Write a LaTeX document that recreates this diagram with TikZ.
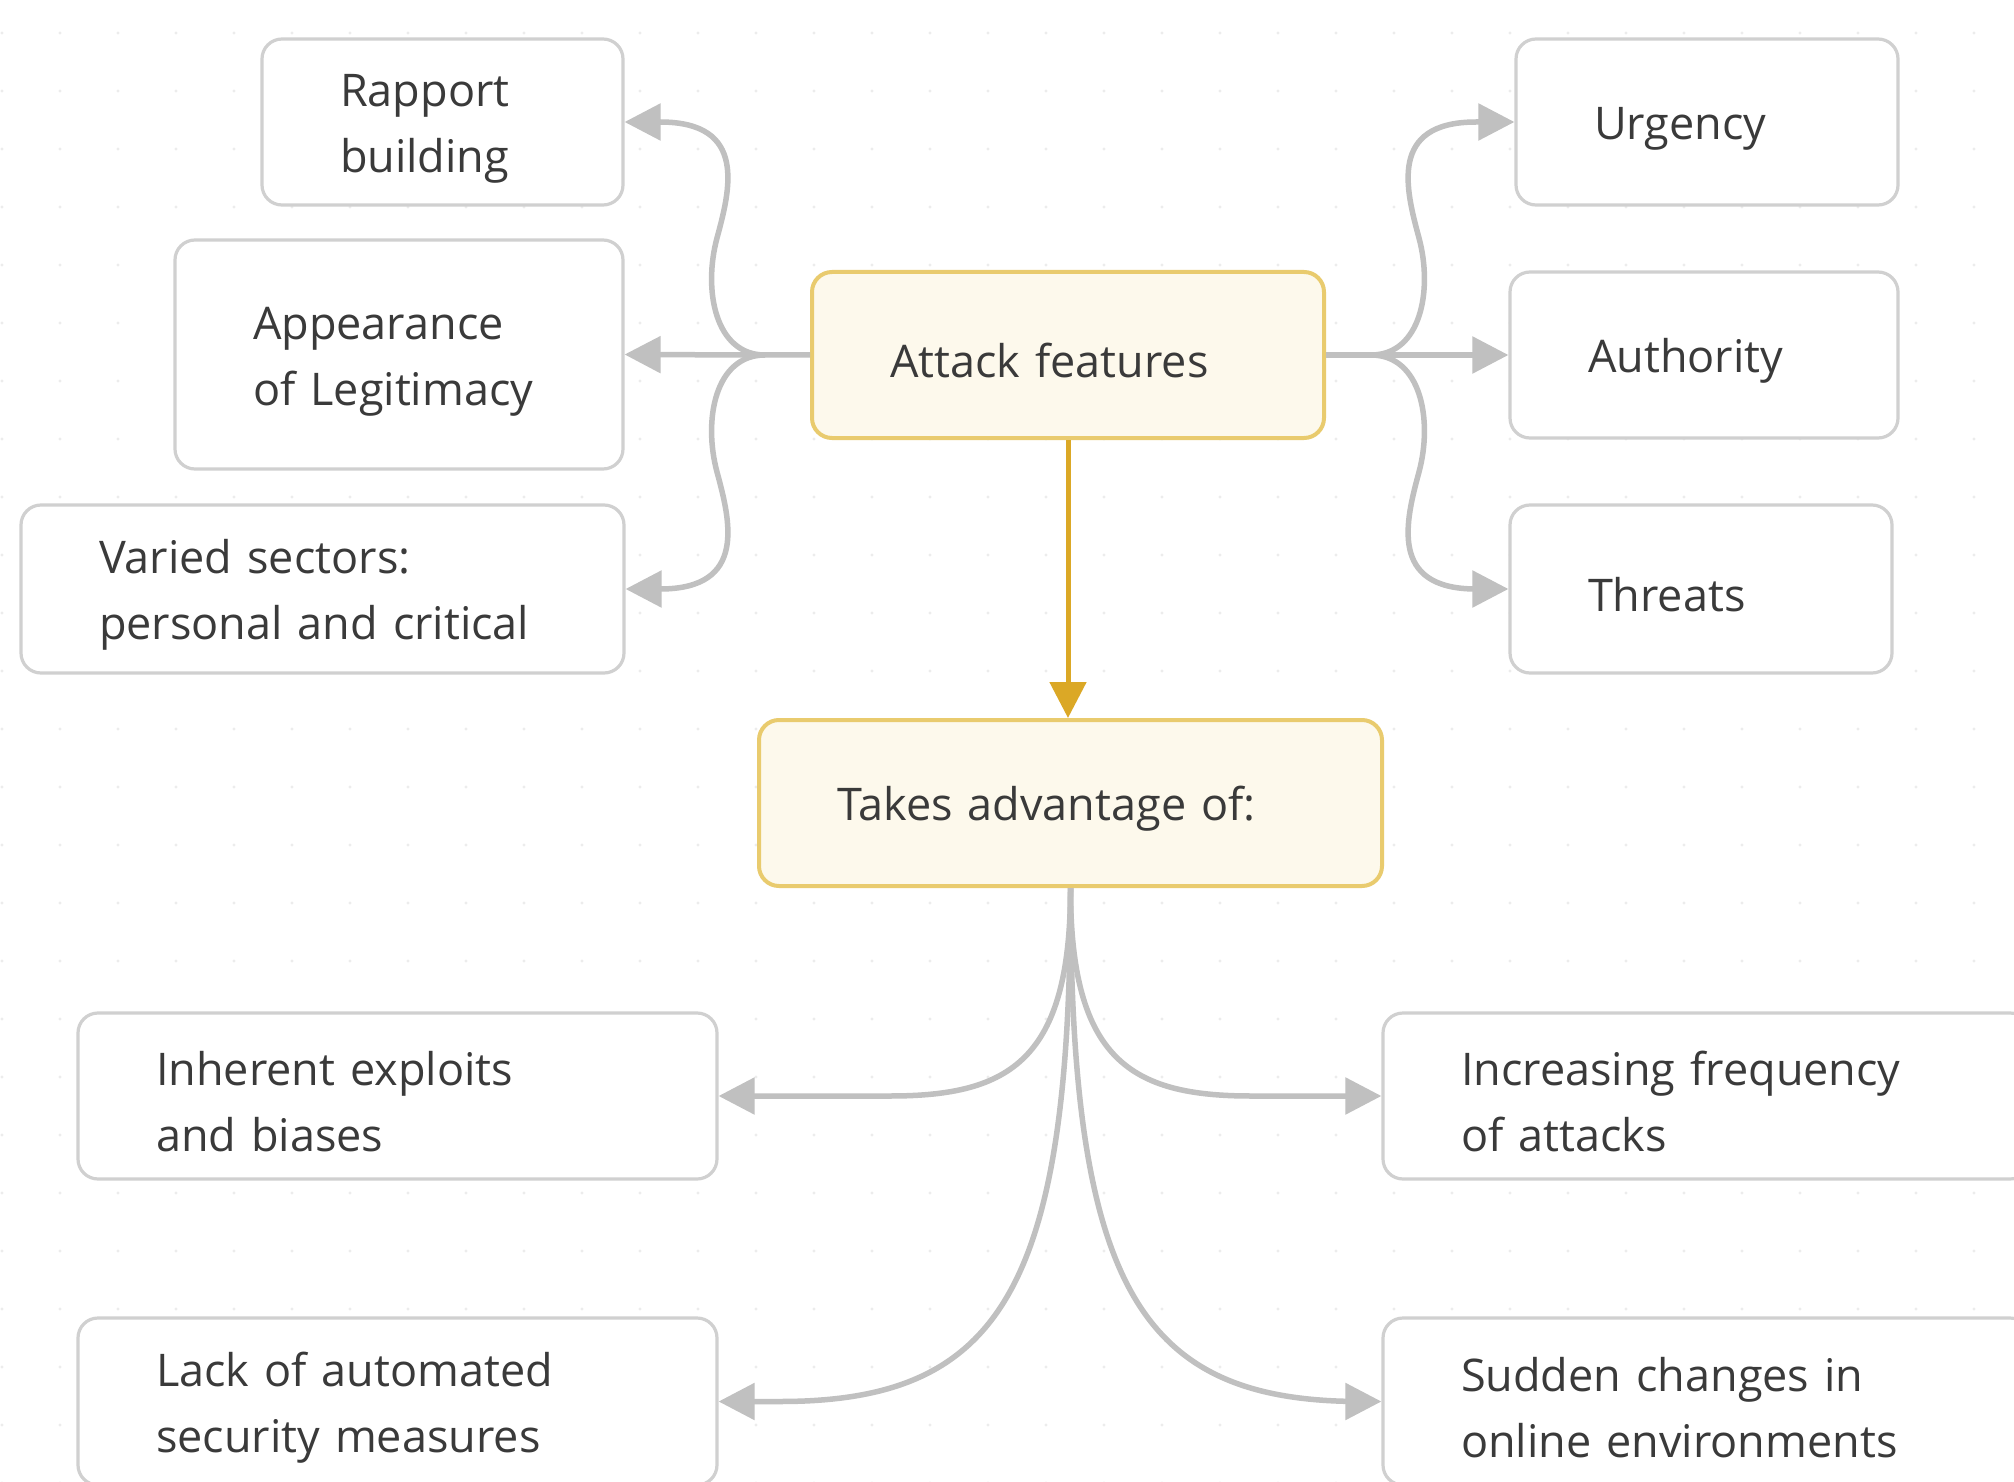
\documentclass[tikz,border=0pt]{standalone}
\usepackage{fontspec}
\setmainfont{Open Sans}
\usetikzlibrary{arrows.meta}
\definecolor{linegray}{RGB}{192,192,192}
\definecolor{boxgray}{RGB}{208,208,208}
\definecolor{goldb}{RGB}{233,203,110}
\definecolor{goldf}{RGB}{253,249,236}
\definecolor{goldarr}{RGB}{219,168,38}
\definecolor{txt}{RGB}{58,58,58}
\definecolor{dotc}{RGB}{236,236,236}
\tikzset{
  box/.style={draw=boxgray, line width=1.6pt, fill=white, rounded corners=10pt,
    inner xsep=39pt, inner ysep=0pt, align=left, text=txt,
    font=\fontsize{22.5}{33}\selectfont,
    execute at begin node={\rule{0pt}{23.2pt}}},
  gbox/.style={box, draw=goldb, fill=goldf, line width=2pt},
  conn/.style={draw=linegray, line width=2.75pt, -{Triangle[length=18pt,width=18pt]}},
  goldconn/.style={draw=goldarr, line width=2.5pt, -{Triangle[length=18pt,width=18pt]}},
}
\begin{document}
\begin{tikzpicture}[x=0.5pt,y=-0.5pt]
\clip (0,0) rectangle (2014,1482);
\fill[white] (0,0) rectangle (2014,1482);
\foreach \i in {0,...,34} {
  \foreach \j in {0,...,25} {
    \fill[dotc] (\i*58+2, 33+\j*58) circle (1.6);
  }
}
% left boxes
\node[box, minimum width=180.5pt, minimum height=83pt, text width=102.5pt] (rap) at (442.5,122) {Rapport\\building};
\node[box, minimum width=224pt, minimum height=114.5pt, text width=146pt] (app) at (399,354.5) {Appearance\\of Legitimacy};
\node[box, minimum width=301.5pt, minimum height=84pt, text width=223.5pt] (var) at (322.5,589) {Varied sectors:\\personal and critical};
% center
\node[gbox, minimum width=256pt, minimum height=83pt, text width=178pt] (att) at (1068,355) {Attack features};
\node[gbox, minimum width=311.5pt, minimum height=83pt, text width=233.5pt] (tak) at (1070.5,803) {Takes advantage of:};
% right boxes
\node[box, minimum width=191pt, minimum height=83pt, text width=113pt] (urg) at (1707,122) {Urgency};
\node[box, minimum width=194pt, minimum height=83pt, text width=116pt] (aut) at (1704,355) {Authority};
\node[box, minimum width=191pt, minimum height=84pt, text width=113pt] (thr) at (1701,589) {Threats};
% bottom boxes
\node[box, minimum width=319.5pt, minimum height=83pt, text width=241.5pt] (inh) at (397.5,1096) {Inherent exploits\\and biases};
\node[box, minimum width=323.5pt, minimum height=83pt, text width=245.5pt] (inc) at (1706.5,1096) {Increasing frequency\\of attacks};
\node[box, minimum width=319.5pt, minimum height=83.5pt, text width=241.5pt] (lack) at (397.5,1401.5) {Lack of automated\\security measures};
\node[box, minimum width=323.5pt, minimum height=83.5pt, text width=245.5pt] (sud) at (1706.5,1401.5) {Sudden changes in\\online environments};
% junctions
\coordinate (jl) at (765,355);
\coordinate (jr) at (1371,355);
% left connectors
\draw[conn] (att.west) -- (jl) -- (app.east);
\draw[conn] (jl) .. controls (715,355) and (703,290) .. (717,238)
  .. controls (730,190) and (748,122) .. (660,122) -- (rap.east);
\draw[conn] (jl) .. controls (715,355) and (703,420) .. (717,472)
  .. controls (730,520) and (748,589) .. (660,589) -- (var.east);
% right connectors
\draw[conn] (att.east) -- (jr) -- (aut.west);
\draw[conn] (jr) .. controls (1421,355) and (1433,290) .. (1419,238)
  .. controls (1406,190) and (1388,122) .. (1476,122) -- (urg.west);
\draw[conn] (jr) .. controls (1421,355) and (1433,420) .. (1419,472)
  .. controls (1406,520) and (1388,589) .. (1476,589) -- (thr.west);
% gold arrow
\draw[goldconn] (att.south) -- (att.south |- tak.north);
% bottom connectors
\draw[conn] (tak.south) .. controls (1070.5,1060) and (1010,1096) .. (890,1096) -- (inh.east);
\draw[conn] (tak.south) .. controls (1070.5,1060) and (1131,1096) .. (1251,1096) -- (inc.west);
\draw[conn] (tak.south) .. controls (1070.5,1290) and (1000,1401.5) .. (780,1401.5) -- (lack.east);
\draw[conn] (tak.south) .. controls (1070.5,1290) and (1141,1401.5) .. (1361,1401.5) -- (sud.west);
\end{tikzpicture}
\end{document}
